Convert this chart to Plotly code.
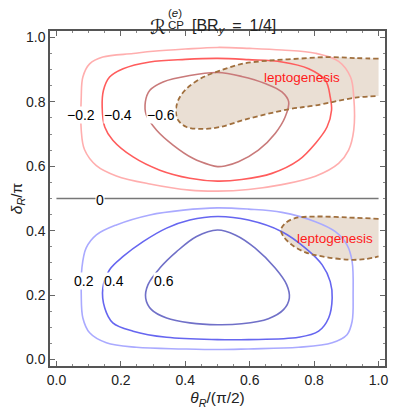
import plotly.graph_objects as go

# contour lines (theta_R/(pi/2), delta_R/pi)
m02_x = [0.50, 0.40, 0.30, 0.238, 0.144, 0.103, 0.082, 0.077, 0.077, 0.087, 0.124, 0.186, 0.29, 0.414, 0.50,
         0.596, 0.70, 0.804, 0.876, 0.907, 0.923, 0.923, 0.913, 0.876, 0.804, 0.70, 0.60, 0.50]
m02_y = [0.969, 0.964, 0.957, 0.950, 0.939, 0.918, 0.877, 0.815, 0.712, 0.652, 0.602, 0.570, 0.545, 0.526, 0.523,
         0.528, 0.543, 0.569, 0.609, 0.650, 0.712, 0.815, 0.877, 0.926, 0.951, 0.961, 0.966, 0.969]

m04_x = [0.50, 0.40, 0.29, 0.207, 0.165, 0.146, 0.142, 0.150, 0.175, 0.238, 0.321, 0.414, 0.50,
         0.575, 0.669, 0.752, 0.804, 0.840, 0.854, 0.850, 0.835, 0.783, 0.70, 0.596, 0.50]
m04_y = [0.935, 0.932, 0.924, 0.903, 0.877, 0.836, 0.784, 0.722, 0.681, 0.629, 0.588, 0.563, 0.554,
         0.559, 0.578, 0.619, 0.671, 0.722, 0.774, 0.815, 0.867, 0.903, 0.924, 0.931, 0.935]

m06_x = [0.50, 0.414, 0.331, 0.290, 0.276, 0.279, 0.311, 0.362, 0.425, 0.477, 0.50,
         0.523, 0.565, 0.627, 0.679, 0.710, 0.721, 0.700, 0.648, 0.575, 0.50]
m06_y = [0.891, 0.882, 0.862, 0.836, 0.800, 0.759, 0.712, 0.666, 0.624, 0.604, 0.599,
         0.601, 0.614, 0.650, 0.702, 0.753, 0.800, 0.831, 0.857, 0.879, 0.891]

p02_x = [0.50, 0.394, 0.290, 0.186, 0.124, 0.092, 0.079, 0.077, 0.082, 0.103, 0.155, 0.248, 0.394, 0.50,
         0.596, 0.752, 0.856, 0.902, 0.918, 0.921, 0.918, 0.902, 0.866, 0.804, 0.700, 0.596, 0.50]
p02_y = [0.471, 0.464, 0.449, 0.418, 0.387, 0.346, 0.284, 0.201, 0.129, 0.083, 0.052, 0.038, 0.033, 0.031,
         0.033, 0.038, 0.052, 0.077, 0.119, 0.201, 0.304, 0.356, 0.397, 0.428, 0.457, 0.467, 0.471]

p04_x = [0.50, 0.414, 0.342, 0.269, 0.207, 0.165, 0.144, 0.150, 0.175, 0.238, 0.342, 0.50,
         0.596, 0.752, 0.814, 0.845, 0.856, 0.850, 0.825, 0.773, 0.700, 0.596, 0.50]
p04_y = [0.444, 0.433, 0.408, 0.366, 0.320, 0.279, 0.222, 0.160, 0.114, 0.088, 0.069, 0.062,
         0.062, 0.069, 0.088, 0.129, 0.191, 0.242, 0.294, 0.346, 0.397, 0.433, 0.444]

p06_x = [0.50, 0.435, 0.373, 0.321, 0.284, 0.277, 0.295, 0.342, 0.414, 0.50,
         0.575, 0.658, 0.705, 0.723, 0.715, 0.679, 0.617, 0.555, 0.50]
p06_y = [0.402, 0.382, 0.335, 0.284, 0.232, 0.191, 0.155, 0.129, 0.114, 0.108,
         0.111, 0.127, 0.155, 0.191, 0.232, 0.284, 0.346, 0.387, 0.402]

# leptogenesis regions (open at theta_R = pi/2)
lep_up_x = [1.0, 0.928, 0.845, 0.752, 0.658, 0.575, 0.508, 0.456, 0.404, 0.378, 0.371, 0.378, 0.404, 0.450,
            0.508, 0.596, 0.721, 0.804, 0.928, 1.0]
lep_up_y = [0.934, 0.936, 0.939, 0.934, 0.928, 0.918, 0.897, 0.877, 0.841, 0.805, 0.769, 0.743, 0.722, 0.716,
            0.722, 0.748, 0.777, 0.789, 0.813, 0.818]
lep_dn_x = [1.0, 0.907, 0.804, 0.741, 0.710, 0.697, 0.705, 0.731, 0.773, 0.825, 0.907, 0.960, 1.0]
lep_dn_y = [0.437, 0.441, 0.444, 0.439, 0.423, 0.402, 0.382, 0.356, 0.333, 0.320, 0.310, 0.312, 0.320]

levels = ['\u22120.2', '\u22120.4', '\u22120.6', '0.2', '0.4', '0.6', '0']
label_x = [0.075, 0.192, 0.326, 0.085, 0.178, 0.333, 0.135]
label_y = [0.759, 0.759, 0.759, 0.244, 0.244, 0.244, 0.495]

font = 'Liberation Sans, Arial, DejaVu Sans'
fill_col = '#EADFD4'
dash_col = '#A06F3D'

fig = go.Figure()

# shaded regions first
for xs, ys in [(lep_up_x, lep_up_y), (lep_dn_x, lep_dn_y)]:
    fig.add_trace(go.Scatter(x=xs, y=ys, mode='lines', fill='toself', fillcolor=fill_col,
                             line=dict(width=0, shape='spline'), hoverinfo='skip'))

curves = [(m02_x, m02_y, '#FFAEAE'), (m04_x, m04_y, '#FF5C5C'), (m06_x, m06_y, '#C97A7A'),
          (p02_x, p02_y, '#AAAAFF'), (p04_x, p04_y, '#6666F0'), (p06_x, p06_y, '#7070C8')]
for xs, ys, c in curves:
    fig.add_trace(go.Scatter(x=xs, y=ys, mode='lines', line=dict(color=c, width=1.6, shape='spline', smoothing=1)))

# zero contour
fig.add_trace(go.Scatter(x=[0, 1], y=[0.5, 0.5], mode='lines', line=dict(color='#777777', width=1.3)))

# dashed boundaries
for xs, ys in [(lep_up_x, lep_up_y), (lep_dn_x, lep_dn_y)]:
    fig.add_trace(go.Scatter(x=xs, y=ys, mode='lines',
                             line=dict(color=dash_col, width=1.8, dash='5px,3px', shape='spline')))

for t, x, y in zip(levels, label_x, label_y):
    fig.add_annotation(x=x, y=y, text=t, showarrow=False, bgcolor='white', borderpad=0,
                       font=dict(family=font, size=14, color='black'))

fig.add_annotation(x=0.763, y=0.875, text='leptogenesis', showarrow=False,
                   font=dict(family=font, size=13.5, color='#FF1A1A'))
fig.add_annotation(x=0.866, y=0.377, text='leptogenesis', showarrow=False,
                   font=dict(family=font, size=13.5, color='#FF1A1A'))

# title pieces (stacked sub/superscript), positions in px from plot-area edges
def px(xp):
    return (xp - 50) / 335

def py(yp):
    return 1 + (31 - yp) / 335

fig.add_annotation(xref='paper', yref='paper', x=px(167), y=py(14), xanchor='right', text='\u211B',
                   showarrow=False, borderpad=0, font=dict(family='DejaVu Sans', size=20, color='#222'))
fig.add_annotation(xref='paper', yref='paper', x=px(167), y=py(6), xanchor='left', text='(<i>e</i>)',
                   showarrow=False, borderpad=0, font=dict(family=font, size=11.5, color='#222'))
fig.add_annotation(xref='paper', yref='paper', x=px(167), y=py(18), xanchor='left', text='CP',
                   showarrow=False, borderpad=0, font=dict(family=font, size=11.5, color='#222'))
fig.add_annotation(xref='paper', yref='paper', x=px(191), y=py(15.5), xanchor='left',
                   text='[BR<sub><i>y</i></sub>\u2002=\u20021/4]',
                   showarrow=False, borderpad=0, font=dict(family=font, size=16, color='#222'))

axis = dict(range=[-0.02, 1.02], showgrid=False, zeroline=False, showline=True, linecolor='#555555',
            linewidth=1.5, mirror='allticks', ticks='inside', ticklen=5, tickwidth=1, tickcolor='#666666',
            tick0=0, dtick=0.2, tickformat='.1f', tickfont=dict(family=font, size=14, color='#222'),
            minor=dict(dtick=0.05, ticklen=2.5, ticks='inside', tickcolor='#888888', showgrid=False))

fig.update_layout(width=410, height=415, showlegend=False, plot_bgcolor='white', paper_bgcolor='white',
                  margin=dict(l=50, r=25, t=31, b=49),
                  xaxis=dict(axis, title=dict(text='<i>\u03b8<sub>R</sub></i>/(\u03c0/2)', standoff=6,
                                              font=dict(family=font, size=15.5, color='#222'))),
                  yaxis=dict(axis, title=dict(text='<i>\u03b4<sub>R</sub></i>/\u03c0', standoff=0,
                                              font=dict(family=font, size=15.5, color='#222'))))

# the page's default body margin would shift the fixed-size figure
fig.write_html("out.html", config={'displayModeBar': False},
               post_script="document.body.style.margin='0px';")
